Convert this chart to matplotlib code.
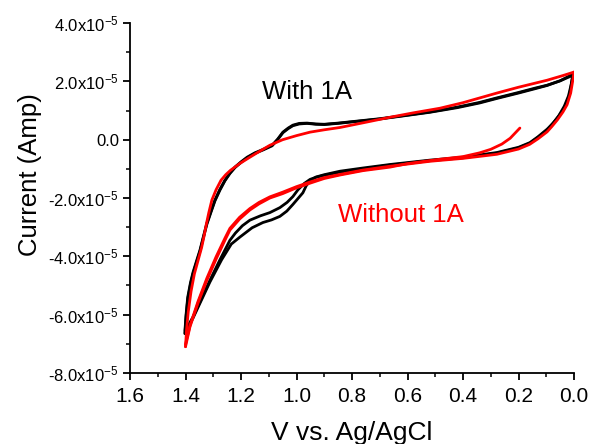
import numpy as np
import matplotlib.pyplot as plt
from matplotlib.ticker import MultipleLocator, FuncFormatter

plt.rcParams['font.family'] = ['Liberation Sans', 'DejaVu Sans']
plt.rcParams['mathtext.default'] = 'regular'

### data (current in units of 1e-5 A) ###
# with 1A, cycle 1
blk_up1_v = [1.402, 1.398, 1.392, 1.382, 1.373, 1.360, 1.348, 1.335, 1.323, 1.308, 1.294, 1.276,
             1.258, 1.240, 1.222, 1.200, 1.178, 1.150, 1.120, 1.088, 1.068, 1.049, 1.030, 1.013,
             0.990, 0.962, 0.930, 0.900, 0.850, 0.780, 0.700, 0.620, 0.520, 0.420, 0.340, 0.280,
             0.200, 0.140, 0.097, 0.050, 0.004]
blk_up1_i = [-6.55, -6.00, -5.40, -4.90, -4.55, -4.15, -3.79, -3.30, -2.86, -2.45, -2.07, -1.70,
             -1.39, -1.14, -0.94, -0.76, -0.60, -0.45, -0.33, -0.19, 0.02, 0.26, 0.40, 0.50,
             0.56, 0.57, 0.54, 0.53, 0.57, 0.64, 0.72, 0.82, 0.95, 1.12, 1.28, 1.43,
             1.62, 1.77, 1.87, 2.02, 2.21]
blk_dn1_v = [0.004, 0.008, 0.015, 0.025, 0.040, 0.060, 0.080, 0.097, 0.130, 0.159, 0.200, 0.278,
             0.400, 0.519, 0.663, 0.760, 0.843, 0.900, 0.930, 0.951, 0.972, 0.995, 1.013, 1.034,
             1.060, 1.096, 1.130, 1.168, 1.195, 1.220, 1.240, 1.275, 1.312, 1.345, 1.373, 1.392,
             1.402]
blk_dn1_i = [2.21, 2.00, 1.60, 1.30, 1.01, 0.75, 0.52, 0.33, 0.08, -0.12, -0.28, -0.46,
             -0.62, -0.72, -0.87, -1.00, -1.11, -1.22, -1.29, -1.36, -1.50, -1.72, -1.95, -2.15,
             -2.33, -2.50, -2.61, -2.76, -2.95, -3.20, -3.45, -4.10, -4.82, -5.50, -6.08, -6.40,
             -6.60]
# with 1A, cycle 2
blk_up2_v = [1.402, 1.398, 1.392, 1.382, 1.373, 1.360, 1.348, 1.335, 1.323, 1.308, 1.294, 1.276,
             1.258, 1.240, 1.222, 1.200, 1.178, 1.150, 1.120, 1.088, 1.068, 1.049, 1.030, 1.013,
             0.990, 0.962, 0.930, 0.900, 0.850, 0.780, 0.700, 0.620, 0.520, 0.420, 0.340, 0.280,
             0.200, 0.140, 0.097, 0.050, 0.004]
blk_up2_i = [-6.65, -6.08, -5.48, -4.96, -4.60, -4.20, -3.83, -3.34, -2.90, -2.48, -2.10, -1.73,
             -1.41, -1.16, -0.96, -0.78, -0.62, -0.47, -0.35, -0.21, 0.00, 0.24, 0.38, 0.48,
             0.54, 0.56, 0.53, 0.52, 0.56, 0.63, 0.71, 0.81, 0.94, 1.10, 1.26, 1.41,
             1.60, 1.75, 1.86, 2.02, 2.25]
blk_dn2_v = [0.004, 0.010, 0.020, 0.035, 0.055, 0.075, 0.097, 0.130, 0.159, 0.200, 0.278, 0.400,
             0.519, 0.663, 0.760, 0.843, 0.900, 0.930, 0.951, 0.965, 0.977, 0.995, 1.013, 1.035,
             1.060, 1.090, 1.121, 1.160, 1.204, 1.235, 1.270, 1.312, 1.345, 1.373, 1.392, 1.402]
blk_dn2_i = [2.25, 1.90, 1.50, 1.15, 0.82, 0.57, 0.36, 0.10, -0.10, -0.26, -0.44, -0.60,
             -0.70, -0.85, -0.97, -1.08, -1.20, -1.28, -1.40, -1.58, -1.82, -2.02, -2.22, -2.45,
             -2.63, -2.75, -2.84, -3.02, -3.34, -3.58, -4.12, -4.88, -5.55, -6.12, -6.45, -6.65]

# without 1A: starts at 0.2 V
red_dn1_v = [0.195, 0.210, 0.230, 0.260, 0.300, 0.340, 0.400, 0.483, 0.600, 0.663, 0.760, 0.843,
             0.900, 0.951, 1.000, 1.050, 1.096, 1.135, 1.168, 1.205, 1.240, 1.258, 1.290, 1.323,
             1.355, 1.384, 1.400]
red_dn1_i = [0.40, 0.25, 0.05, -0.15, -0.33, -0.45, -0.58, -0.67, -0.82, -0.94, -1.06, -1.21,
             -1.33, -1.49, -1.65, -1.85, -2.00, -2.20, -2.41, -2.72, -3.10, -3.45, -4.10, -4.82,
             -5.60, -6.42, -7.10]
red_up1_v = [1.400, 1.396, 1.390, 1.380, 1.368, 1.355, 1.342, 1.333, 1.325, 1.316, 1.305, 1.290,
             1.272, 1.255, 1.238, 1.205, 1.168, 1.130, 1.096, 1.050, 1.000, 0.951, 0.900, 0.843,
             0.760, 0.663, 0.580, 0.483, 0.400, 0.278, 0.200, 0.097, 0.040, 0.000]
red_up1_i = [-7.10, -6.50, -5.90, -5.20, -4.60, -4.15, -3.70, -3.30, -2.90, -2.50, -2.07, -1.72,
             -1.39, -1.20, -1.05, -0.82, -0.60, -0.38, -0.19, 0.00, 0.14, 0.26, 0.34, 0.42,
             0.58, 0.77, 0.92, 1.08, 1.27, 1.60, 1.80, 2.04, 2.20, 2.32]
red_dn2_v = [0.000, 0.005, 0.012, 0.025, 0.040, 0.060, 0.080, 0.097, 0.130, 0.160, 0.200, 0.278,
             0.400, 0.519, 0.663, 0.760, 0.843, 0.900, 0.951, 1.000, 1.050, 1.096, 1.135, 1.168,
             1.205, 1.240, 1.258, 1.290, 1.323, 1.355, 1.384, 1.400]
red_dn2_i = [2.32, 2.00, 1.60, 1.20, 0.95, 0.68, 0.45, 0.27, 0.03, -0.16, -0.32, -0.50,
             -0.64, -0.74, -0.91, -1.04, -1.19, -1.30, -1.45, -1.61, -1.80, -1.96, -2.15, -2.36,
             -2.66, -3.04, -3.38, -4.02, -4.75, -5.55, -6.38, -7.02]

y_ticks = [-8, -6, -4, -2, 0, 2, 4]


def ylab(v, pos):
    if abs(v) < 1e-9:
        return '0.0'
    return '%.1fx10$^{-5}$' % v


fig = plt.figure(figsize=(5.92, 4.44), dpi=100)
ax = fig.add_axes([0.2196, 0.16, 0.75, 0.788])

for v, i in [(blk_up1_v, blk_up1_i), (blk_dn1_v, blk_dn1_i),
             (blk_up2_v, blk_up2_i), (blk_dn2_v, blk_dn2_i)]:
    ax.plot(v, i, color='black', lw=2.0, solid_capstyle='round', solid_joinstyle='round')
for v, i in [(red_dn1_v, red_dn1_i), (red_up1_v, red_up1_i), (red_dn2_v, red_dn2_i)]:
    ax.plot(v, i, color='#ff0000', lw=2.0, solid_capstyle='round', solid_joinstyle='round')

ax.set_xlim(1.6, 0.0)
ax.set_ylim(-8, 4)
ax.set_yticks(y_ticks)
ax.yaxis.set_major_formatter(FuncFormatter(ylab))
ax.yaxis.set_minor_locator(MultipleLocator(1))
ax.xaxis.set_major_locator(MultipleLocator(0.2))
ax.xaxis.set_minor_locator(MultipleLocator(0.1))
ax.xaxis.set_major_formatter(FuncFormatter(lambda v, p: '%.1f' % abs(v)))

for s in ['top', 'right']:
    ax.spines[s].set_visible(False)
for s in ['left', 'bottom']:
    ax.spines[s].set_linewidth(1.3)
ax.tick_params(which='major', direction='out', length=5, width=1.3)
ax.tick_params(which='minor', direction='out', length=3, width=1.1)
ax.tick_params(axis='y', labelsize=12, pad=3)
ax.tick_params(axis='x', labelsize=15, pad=5)

ax.set_ylabel('Current (Amp)', fontsize=18.5)
ax.yaxis.set_label_coords(-0.198, 0.566)
ax.set_xlabel('V vs. Ag/AgCl', fontsize=19)
ax.xaxis.set_label_coords(0.5, -0.138)

ax.text(1.124, 1.39, 'With 1A', color='black', fontsize=18.5)
ax.text(0.85, -2.82, 'Without 1A', color='#ff0000', fontsize=18.5)

plt.savefig('out.png', dpi=100)
